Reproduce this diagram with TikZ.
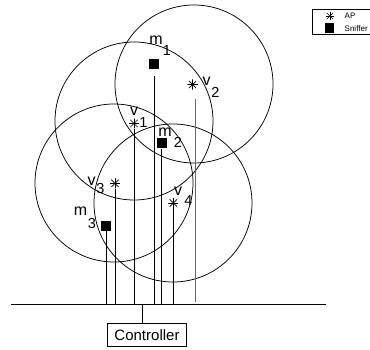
\documentclass[tikz,border=0pt]{standalone}
\usepackage{fontspec}
\setmainfont{Liberation Sans}
\begin{document}
\begin{tikzpicture}[x=1pt,y=-1pt,
  ring/.style={draw, line width=0.75pt},
  drop/.style={draw, line width=0.8pt},
  sniffer/.style={fill=black, minimum size=10pt, inner sep=0pt},
  ap/.style={circle, minimum size=#1, inner sep=0pt,
    path picture={\foreach \a in {0,45,90,135}
      \draw[line width=0.7pt] ([shift={(\a:#1/2)}]path picture bounding box.center)
        -- ([shift={(\a+180:#1/2)}]path picture bounding box.center);}},
  ap/.default=10.5pt,
  lab/.style={anchor=base, inner sep=0pt, font=\fontsize{16}{18}\selectfont},
  sub/.style={anchor=base, inner sep=0pt, font=\fontsize{14.5}{16}\selectfont},
  legtext/.style={anchor=west, inner sep=0pt, font=\fontsize{8}{9}\selectfont}]
\useasboundingbox (0,0) rectangle (370,350);
\clip (0,0) rectangle (370,350);

% coverage circles
\draw[ring] (194,84) circle[radius=79pt];
\draw[ring] (134,121) circle[radius=79pt];
\draw[ring] (114,183) circle[radius=79pt];
\draw[ring] (173,203) circle[radius=79pt];

% sniffers and APs
\node[sniffer] (m1) at (154,64.5) {};
\node[sniffer] (m2) at (161.5,143.5) {};
\node[sniffer] (m3) at (106,226) {};
\node[ap] (v1) at (134,123.5) {};
\node[ap] (v2) at (192.7,84.5) {};
\node[ap] (v3) at (115,183.3) {};
\node[ap] (v4) at (173.3,203) {};

% labels
\node[lab] (m1l) at (156,45) {m};    \node[sub] (m1s) at (167,55.5) {1};
\node[lab] (v2l) at (206.5,85.5) {v};\node[sub] (v2s) at (215.5,97.5) {2};
\node[lab] (v1l) at (134,116) {v};   \node[sub] (v1s) at (143.5,128) {1};
\node[lab] (m2l) at (165,136.5) {m}; \node[sub] (m2s) at (178,147.5) {2};
\node[lab] (v3l) at (91.5,186) {v};  \node[sub] (v3s) at (100.5,193.5) {3};
\node[lab] (m3l) at (80.5,216) {m};  \node[sub] (m3s) at (92,229) {3};
\node[lab] (v4l) at (178,195.5) {v}; \node[sub] (v4s) at (188.5,205.5) {4};

% wired backbone
\coordinate (busL) at (11,304.5);
\coordinate (busR) at (326,304.5);
\draw[line width=1.3pt] (busL) -- (busR);

\draw[drop] (m3.south) -- (m3.south |- busL);
\draw[drop] (v3.south) -- (v3.south |- busL);
\draw[drop] (v1.south) -- (v1.south |- busL);
\draw[drop, shorten <=6pt] (m1.south) -- (m1.south |- busL);
\draw[drop] (m2.south) -- (m2.south |- busL);
\draw[drop] (v4.south) -- (v4.south |- busL);
\draw[drop, black!60, shorten <=9pt, shorten >=2.5pt] ([xshift=3pt]v2.south) -- ([xshift=3pt]v2.south |- busL);

% controller
\node[draw, line width=0.75pt, minimum width=79.5pt, minimum height=23.5pt, inner sep=0pt,
  font=\fontsize{15}{17}\selectfont] (ctrl) at (147,335) {Controller};
\coordinate (tap) at (142.5,304.5);
\draw[line width=1pt] (tap) -- (tap |- ctrl.north);

% legend
\node[draw, line width=0.9pt, anchor=north west, minimum width=80pt, minimum height=25pt, inner sep=0pt] (legend) at (311.7,9.3) {};
\node[ap=9pt] (legap) at (330,16) {};
\node[fill=black, minimum width=9.5pt, minimum height=10pt, inner sep=0pt] (legsn) at (329.5,28.3) {};
\node[legtext] (legapt) at (344.5,16) {AP};
\node[legtext] (legsnt) at (344.5,28.3) {Sniffer};
\end{tikzpicture}
\end{document}
